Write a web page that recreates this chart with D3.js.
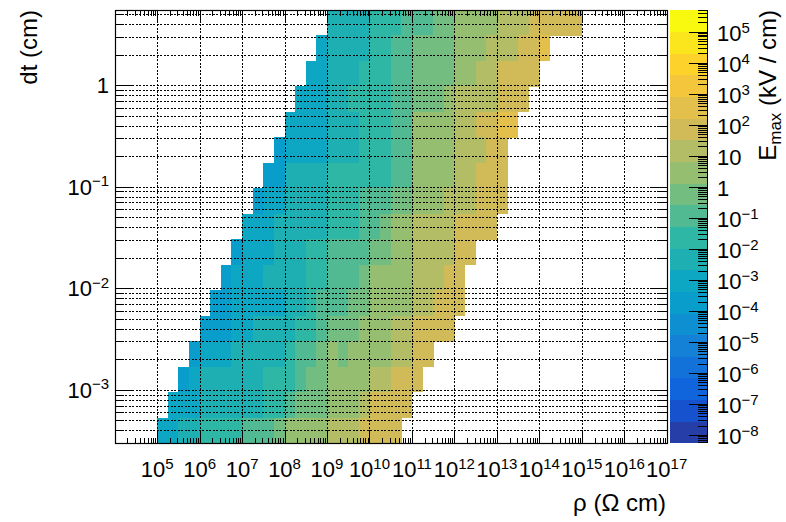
<!DOCTYPE html>
<html><head><meta charset="utf-8">
<script src="https://cdn.jsdelivr.net/npm/d3@7"></script>
<style>
body{margin:0;background:#fff}
svg{display:block}
text{font-family:"Liberation Sans",Arial,Helvetica,sans-serif;fill:#000}
</style>
</head><body>
<svg id="c" width="786" height="522"></svg>
<script>
// ---- histogram definition (TH2 style, log-spaced bins) ----
const rhoRange = [1e4, 1e17];   // Ω cm
const nRhoBins = 52;
const dtRange = [3e-4, 5.5];    // cm
const nDtBins = 17;
const zRange = [5.5e-9, 5e5];   // kV/cm
const nContours = 20;

// first filled rho bin of each dt row, top row first
const firstRhoBin = [20,19,18,17,16,15,14,13,12,11,10,9,8,7,6,5,4];

// E_max (kV/cm) per filled cell, one array per dt row, top row first
const emaxRow0  = [4e-3,4e-3,4e-3,4e-3,.02,.02,.02,.1,.1,.1,.5,.5,2.5,2.5,2.5,2.5,13,13,13,60,60,60,60,60];
const emaxRow1  = [8e-4,4e-3,4e-3,4e-3,4e-3,.02,.02,.1,.1,.5,.5,.5,.5,2.5,2.5,2.5,13,13,13,60,60,300];
const emaxRow2  = [8e-4,8e-4,4e-3,4e-3,4e-3,.02,.02,.02,.1,.1,.5,.5,.5,.5,2.5,2.5,13,13,60,60,60,60];
const emaxRow3  = [8e-4,8e-4,8e-4,4e-3,4e-3,.02,.02,.02,.02,.1,.1,.5,.5,.5,2.5,13,13,13,13,60,60,60];
const emaxRow4  = [8e-4,8e-4,8e-4,8e-4,4e-3,4e-3,4e-3,.02,.02,.02,.1,.1,2.5,2.5,2.5,2.5,13,13,60,60,300,300];
const emaxRow5  = [1.7e-4,8e-4,8e-4,8e-4,8e-4,4e-3,4e-3,4e-3,.02,.02,.02,.1,.1,2.5,2.5,2.5,2.5,13,13,13,60,60];
const emaxRow6  = [1.7e-4,1.7e-4,4e-3,4e-3,4e-3,4e-3,.02,.02,.02,.02,.02,.02,.1,.1,2.5,2.5,2.5,2.5,13,13,60,60,60];
const emaxRow7  = [1.7e-4,8e-4,8e-4,4e-3,4e-3,4e-3,4e-3,.02,.02,.02,.1,.1,.1,.5,.5,2.5,2.5,2.5,13,13,13,60,60,60];
const emaxRow8  = [8e-4,8e-4,8e-4,4e-3,4e-3,4e-3,4e-3,4e-3,.02,.02,.02,.1,.1,.5,2.5,2.5,13,13,13,13,60,60,60,60];
const emaxRow9  = [1.7e-4,8e-4,8e-4,8e-4,4e-3,4e-3,4e-3,.02,.02,.1,.1,.1,.1,.5,.5,2.5,2.5,13,13,13,13,60,60];
const emaxRow10 = [1.7e-4,8e-4,8e-4,8e-4,4e-3,4e-3,4e-3,4e-3,.02,.02,.1,.1,.1,.5,2.5,2.5,2.5,2.5,13,13,13,60,60];
const emaxRow11 = [1.7e-4,1.7e-4,8e-4,8e-4,8e-4,8e-4,8e-4,4e-3,4e-3,.02,.1,.1,.1,.5,.5,2.5,2.5,2.5,2.5,13,13,60,60,60];
const emaxRow12 = [1.7e-4,1.7e-4,1.7e-4,8e-4,8e-4,4e-3,4e-3,4e-3,4e-3,.02,.02,.1,.5,.5,.5,2.5,2.5,2.5,13,13,60,60,60,60];
const emaxRow13 = [1.7e-4,8e-4,8e-4,8e-4,4e-3,4e-3,4e-3,4e-3,4e-3,.02,.1,.1,.5,2.5,.5,2.5,2.5,2.5,2.5,13,13,60,60];
const emaxRow14 = [1.7e-4,8e-4,4e-3,4e-3,4e-3,4e-3,4e-3,4e-3,.02,.02,.02,.1,.5,.5,2.5,2.5,2.5,2.5,13,13,60,60,60];
const emaxRow15 = [8e-4,8e-4,8e-4,4e-3,4e-3,4e-3,4e-3,4e-3,4e-3,.02,.02,.1,.5,.5,.5,2.5,2.5,2.5,13,60,60,60,60];
const emaxRow16 = [8e-4,8e-4,4e-3,4e-3,.02,.02,.02,.02,.1,.1,.1,.5,2.5,2.5,2.5,2.5,13,13,13,60,60,60,60];
const emaxRows = [emaxRow0,emaxRow1,emaxRow2,emaxRow3,emaxRow4,emaxRow5,emaxRow6,emaxRow7,emaxRow8,
                  emaxRow9,emaxRow10,emaxRow11,emaxRow12,emaxRow13,emaxRow14,emaxRow15,emaxRow16];

// tick labels
const rhoLabelExps = [5,6,7,8,9,10,11,12,13,14,15,16,17];
const dtLabelExps = [-3,-2,-1,0];
const zLabelExps = [-8,-7,-6,-5,-4,-3,-2,-1,0,1,2,3,4,5];

// kBird palette stops (ROOT)
const birdStops = [0.0000,0.1250,0.2500,0.3750,0.5000,0.6250,0.7500,0.8750,1.0000];
const birdRed   = [0.2082,0.0592,0.0780,0.0232,0.1802,0.5301,0.8186,0.9956,0.9764];
const birdGreen = [0.1664,0.3599,0.5041,0.6419,0.7178,0.7492,0.7328,0.7862,0.9832];
const birdBlue  = [0.5293,0.8684,0.8385,0.7914,0.6425,0.4662,0.3499,0.1968,0.0539];

// ---- drawing ----
const svg = d3.select("#c");
const F = {l:114.7, r:666.7, t:10, b:443};
const P = {l:670, r:707};
const x = d3.scaleLog().domain(rhoRange).range([F.l, F.r]);
const y = d3.scaleLog().domain(dtRange).range([F.b, F.t]);
const z = d3.scaleLog().domain(zRange).range([F.b, F.t]);

function rootPalette(n){
  const cols=[];
  for(let s=1;s<birdStops.length;s++){
    const nc=Math.floor(n*birdStops[s])-Math.floor(n*birdStops[s-1]);
    for(let c=0;c<nc;c++){
      const f=c/nc;
      cols.push(d3.rgb(
        Math.round(255*(birdRed[s-1]+(birdRed[s]-birdRed[s-1])*f)),
        Math.round(255*(birdGreen[s-1]+(birdGreen[s]-birdGreen[s-1])*f)),
        Math.round(255*(birdBlue[s-1]+(birdBlue[s]-birdBlue[s-1])*f))).formatHex());
    }
  }
  return cols;
}
const pal = rootPalette(255);
const bandColors = d3.range(nContours).map(k=>pal[Math.min(254,Math.floor((k+0.99)*pal.length/nContours))]);
const lz = zRange.map(Math.log10);
const zq = d3.scaleQuantize().domain(lz).range(d3.range(nContours));

const lr = rhoRange.map(Math.log10), ld = dtRange.map(Math.log10);
const rhoEdge = i => Math.pow(10, lr[0]+(lr[1]-lr[0])*i/nRhoBins);
const dtEdge = i => Math.pow(10, ld[0]+(ld[1]-ld[0])*i/nDtBins);

const cells=[];
emaxRows.forEach((row,r)=>{
  const iy = nDtBins-1-r;
  row.forEach((v,k)=>{
    const ix = firstRhoBin[r]+k;
    cells.push({x0:rhoEdge(ix),x1:rhoEdge(ix+1),y0:dtEdge(iy),y1:dtEdge(iy+1),v});
  });
});

svg.append("g").attr("shape-rendering","crispEdges").selectAll("rect").data(cells).join("rect")
  .attr("x",d=>x(d.x0)).attr("width",d=>x(d.x1)-x(d.x0)+0.4)
  .attr("y",d=>y(d.y1)).attr("height",d=>y(d.y0)-y(d.y1)+0.4)
  .attr("fill",d=>bandColors[zq(Math.log10(d.v))]);

// log tick helpers
function logTicks(lo,hi){
  const maj=[],min=[];
  for(let e=Math.floor(Math.log10(lo))-1;e<=Math.ceil(Math.log10(hi));e++){
    for(let m=1;m<10;m++){
      const v=m*Math.pow(10,e);
      if(v<lo*0.9999||v>hi*1.0001) continue;
      (m===1?maj:min).push(v);
    }
  }
  return {maj,min};
}
const xt = logTicks(rhoRange[0],rhoRange[1]);
const yt = logTicks(dtRange[0],dtRange[1]);
const zt = logTicks(zRange[0],zRange[1]);

// grid (dotted)
const grid = svg.append("g").attr("stroke","#000").attr("stroke-width",1)
  .attr("stroke-dasharray","2,1.5").attr("shape-rendering","crispEdges").attr("fill","none");
grid.selectAll("line.gx").data(xt.maj.filter(v=>x(v)>F.l+1&&x(v)<F.r-1)).join("line")
  .attr("x1",d=>Math.round(x(d))+0.5).attr("x2",d=>Math.round(x(d))+0.5).attr("y1",F.t).attr("y2",F.b);
grid.selectAll("line.gy").data(yt.maj.concat(yt.min)).join("line")
  .attr("y1",d=>Math.round(y(d))+0.5).attr("y2",d=>Math.round(y(d))+0.5).attr("x1",F.l).attr("x2",F.r);

// ticks
const tk = svg.append("g").attr("stroke","#000").attr("stroke-width",1).attr("shape-rendering","crispEdges");
function xTicks(vals,len){
  tk.append("g").selectAll("line").data(vals).join("line")
    .attr("x1",d=>Math.round(x(d))+0.5).attr("x2",d=>Math.round(x(d))+0.5).attr("y1",F.b).attr("y2",F.b-len);
  tk.append("g").selectAll("line").data(vals).join("line")
    .attr("x1",d=>Math.round(x(d))+0.5).attr("x2",d=>Math.round(x(d))+0.5).attr("y1",F.t).attr("y2",F.t+len);
}
function yTicks(vals,len){
  tk.append("g").selectAll("line").data(vals).join("line")
    .attr("y1",d=>Math.round(y(d))+0.5).attr("y2",d=>Math.round(y(d))+0.5).attr("x1",F.l).attr("x2",F.l+len);
  tk.append("g").selectAll("line").data(vals).join("line")
    .attr("y1",d=>Math.round(y(d))+0.5).attr("y2",d=>Math.round(y(d))+0.5).attr("x1",F.r).attr("x2",F.r-len);
}
xTicks(xt.maj,11); xTicks(xt.min,5.5);
yTicks(yt.maj,17); yTicks(yt.min,9);

// frame
svg.append("rect").attr("x",Math.round(F.l)+0.5).attr("y",F.t+0.5).attr("width",Math.round(F.r)-Math.round(F.l)).attr("height",F.b-F.t)
  .attr("fill","none").attr("stroke","#000").attr("stroke-width",1.2);

// palette
const bands = d3.range(nContours).map(k=>({k,lo:Math.pow(10,lz[0]+(lz[1]-lz[0])*k/nContours),hi:Math.pow(10,lz[0]+(lz[1]-lz[0])*(k+1)/nContours)}));
svg.append("g").attr("shape-rendering","crispEdges").selectAll("rect").data(bands).join("rect")
  .attr("x",P.l).attr("width",P.r-P.l)
  .attr("y",d=>z(d.hi)).attr("height",d=>z(d.lo)-z(d.hi)+0.4)
  .attr("fill",d=>bandColors[d.k]);
const pt = svg.append("g").attr("stroke","#000").attr("stroke-width",1).attr("shape-rendering","crispEdges");
pt.selectAll("line.M").data(zt.maj).join("line")
  .attr("y1",d=>Math.round(z(d))+0.5).attr("y2",d=>Math.round(z(d))+0.5).attr("x1",P.r).attr("x2",P.r-18);
pt.selectAll("line.m").data(zt.min).join("line")
  .attr("y1",d=>Math.round(z(d))+0.5).attr("y2",d=>Math.round(z(d))+0.5).attr("x1",P.r).attr("x2",P.r-9);
pt.append("line").attr("x1",P.r+0.5).attr("x2",P.r+0.5).attr("y1",F.t).attr("y2",F.b);

// labels
const LS=22, SS=15, SD=-8.5;
function powLabel(g,e,px,py,anchor){
  const t=g.append("text").attr("x",px).attr("y",py).attr("text-anchor",anchor).attr("font-size",LS);
  if(e===0){t.text("1");return;}
  if(e===1){t.text("10");return;}
  t.append("tspan").text("10");
  t.append("tspan").attr("font-size",SS).attr("dy",SD).text(e<0?"\u2212"+(-e):String(e));
}
const lab = svg.append("g");
rhoLabelExps.forEach(e=>powLabel(lab,e,x(Math.pow(10,e)),477,"middle"));
dtLabelExps.forEach(e=>powLabel(lab,e,109,y(Math.pow(10,e))+8,"end"));
zLabelExps.forEach(e=>powLabel(lab,e,717,z(Math.pow(10,e))+9.5,"start"));

// titles
svg.append("text").attr("transform","translate(37,10) rotate(-90)").attr("text-anchor","end")
  .attr("font-size",24).text("dt (cm)");
svg.append("text").attr("x",666).attr("y",511).attr("text-anchor","end").attr("font-size",24)
  .text("\u03c1 (\u03a9 cm)");
const zt2 = svg.append("text").attr("transform","translate(776,10) rotate(-90)").attr("text-anchor","end").attr("font-size",24);
zt2.append("tspan").text("E");
zt2.append("tspan").attr("font-size",17).attr("dy",5).text("max");
zt2.append("tspan").attr("dy",-5).text(" (kV / cm)");
</script>
</body></html>
